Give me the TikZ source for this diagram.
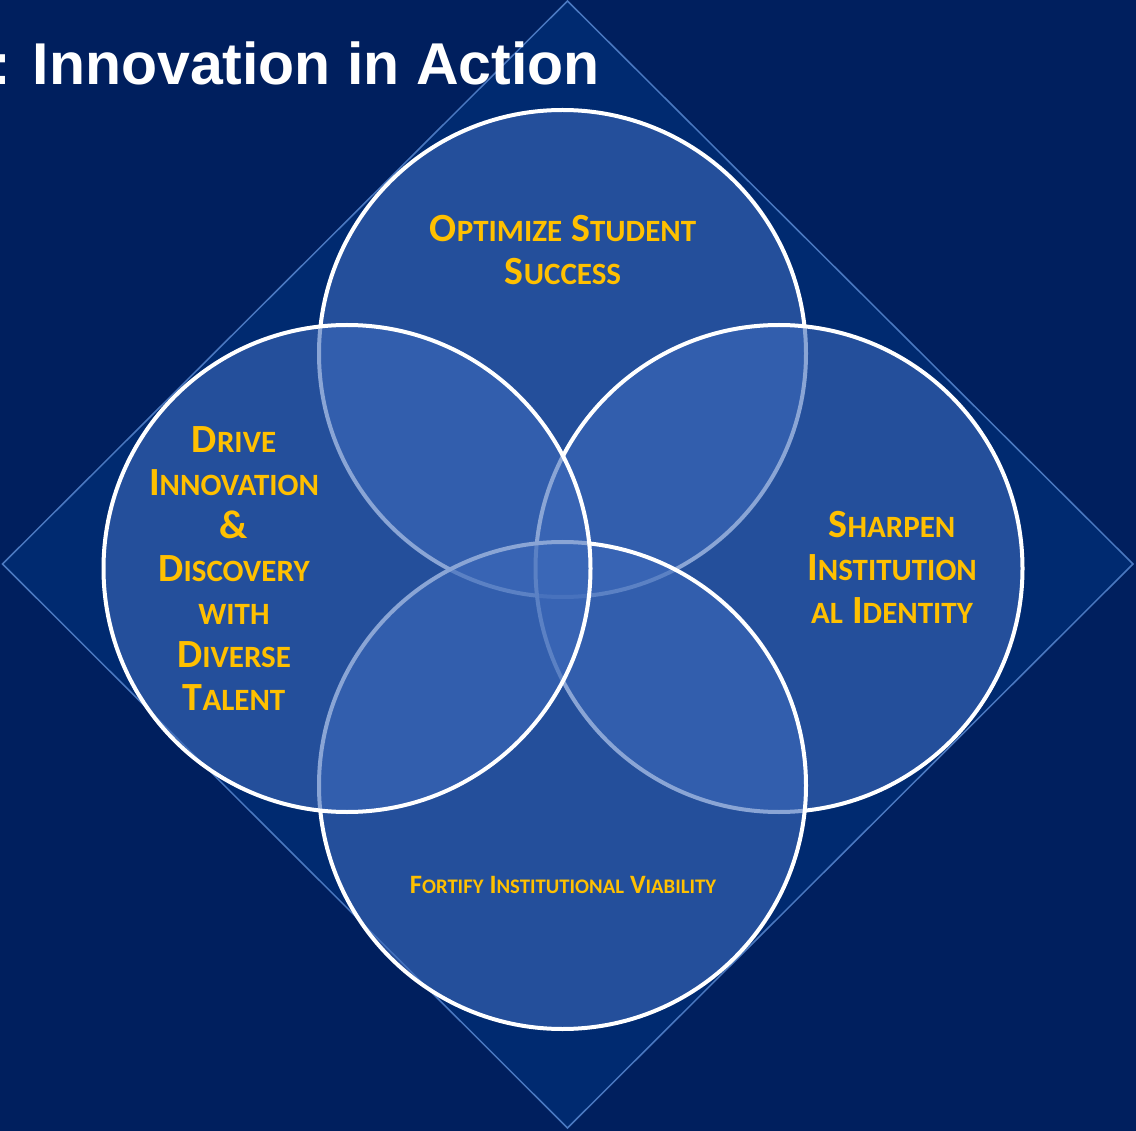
\documentclass[tikz,border=0pt]{standalone}
\usepackage{fontspec}
\setmainfont{Carlito}
\newfontfamily\titlefont{Liberation Sans}
\definecolor{bgblue}{HTML}{001F5E}
\definecolor{diafill}{HTML}{002A70}
\definecolor{dialine}{HTML}{4A78C0}
\definecolor{circfill}{HTML}{3C69B9}
\definecolor{gold}{HTML}{FFC000}
\newcommand{\bigsc}[2]{{\fontsize{40}{43}\selectfont #1}{\fontsize{31}{43}\selectfont #2}}
\newcommand{\smsc}[2]{{\fontsize{26.5}{28}\selectfont #1}{\fontsize{20.7}{28}\selectfont #2}}
\tikzset{
  venn/.style={circle, draw=white, line width=4pt, fill=circfill, fill opacity=0.6, draw opacity=1, minimum size=487pt, inner sep=0pt},
  biglabel/.style={text=gold, font=\bfseries\fontsize{40}{43}\selectfont, align=center, inner sep=0pt, anchor=base},
  smalllabel/.style={text=gold, font=\bfseries\fontsize{26.5}{28}\selectfont, align=center, inner sep=0pt, anchor=base},
}
\begin{document}
\begin{tikzpicture}[x=1pt,y=-1pt]
\useasboundingbox (0,0) rectangle (1136,1131);
\clip (0,0) rectangle (1136,1131);
\fill[bgblue] (0,0) rectangle (1136,1131);
\draw[fill=diafill, draw=dialine, line width=1.5pt] (567.5,1) -- (1133,564) -- (567.5,1128) -- (2.5,564) -- cycle;
\node[anchor=base west, inner sep=0pt, text=white, font=\titlefont\bfseries\fontsize{59}{62}\selectfont] (title) at (-9,85) {: Innovation in Action};
\node[venn] (ctop) at (562.5,353.5) {};
\node[venn] (cright) at (779,568.5) {};
\node[venn] (cbottom) at (562.5,785.5) {};
\node[venn] (cleft) at (347,568.5) {};
\node[biglabel] (ltop) at (563,285) {\bigsc{O}{PTIMIZE} \bigsc{S}{TUDENT}\\\bigsc{S}{UCCESS}};
\node[biglabel] (lleft) at (234,710) {\bigsc{D}{RIVE}\\\bigsc{I}{NNOVATION}\\\bigsc{\&}{}\\\bigsc{D}{ISCOVERY}\\\bigsc{}{WITH}\\\bigsc{D}{IVERSE}\\\bigsc{T}{ALENT}};
\node[biglabel] (lright) at (892,623) {\bigsc{S}{HARPEN}\\\bigsc{I}{NSTITUTION}\\\bigsc{}{AL} \bigsc{I}{DENTITY}};
\node[smalllabel] (lbottom) at (563,893) {\smsc{F}{ORTIFY} \smsc{I}{NSTITUTIONAL} \smsc{V}{IABILITY}};
\end{tikzpicture}
\end{document}
